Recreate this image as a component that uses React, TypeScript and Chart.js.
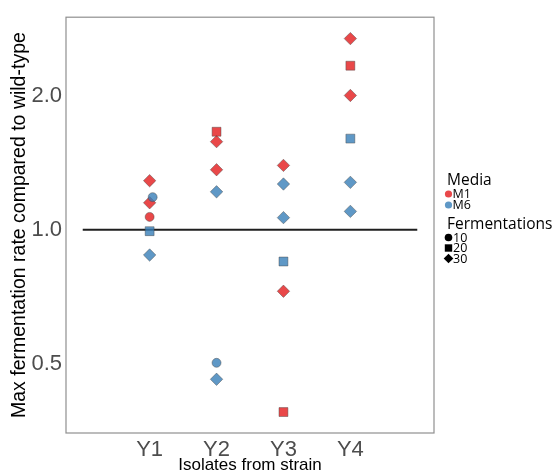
import React, { useEffect, useRef } from "react";
import { Chart, registerables } from "chart.js";

Chart.register(...registerables);

const categories = ["Y1", "Y2", "Y3", "Y4"];
const yTicks = [0.5, 1.0, 2.0];
const mediaLevels = ["M1", "M6"];
const fermentationLevels = ["10", "20", "30"];

// one entry per point
const isolate = [
  "Y1", "Y1", "Y1", "Y1", "Y1", "Y1",
  "Y2", "Y2", "Y2", "Y2", "Y2", "Y2",
  "Y3", "Y3", "Y3", "Y3", "Y3", "Y3",
  "Y4", "Y4", "Y4", "Y4", "Y4", "Y4",
];
const media = [
  "M1", "M6", "M1", "M1", "M6", "M6",
  "M1", "M1", "M1", "M6", "M6", "M6",
  "M1", "M6", "M6", "M6", "M1", "M1",
  "M1", "M1", "M1", "M6", "M6", "M6",
];
const fermentations = [
  "30", "10", "30", "10", "20", "30",
  "20", "30", "30", "30", "10", "30",
  "30", "30", "30", "20", "30", "20",
  "30", "20", "30", "20", "30", "30",
];
const rate = [
  1.289, 1.184, 1.15, 1.069, 0.993, 0.878,
  1.66, 1.577, 1.364, 1.217, 0.503, 0.462,
  1.395, 1.267, 1.065, 0.849, 0.728, 0.39,
  2.686, 2.335, 2.002, 1.602, 1.278, 1.1,
];
const jitter = [
  0, 0.045, 0, 0, 0, 0,
  0, 0, 0, 0, 0, 0,
  0, 0, 0, 0, 0, 0,
  0, 0, 0, 0, 0, 0,
];
const referenceLine = 1.0;

const mediaColors: Record<string, string> = {
  M1: "rgba(228,26,28,0.8)",
  M6: "rgba(55,126,184,0.8)",
};
const legendColors: Record<string, string> = {
  M1: "#E9484A",
  M6: "#5F98C6",
};
const shapes: Record<string, string> = { "10": "circle", "20": "rect", "30": "rectRot" };
const radii: Record<string, number> = { "10": 4.5, "20": 6.3, "30": 6.2 };

const sans = "'Liberation Sans', Arial, sans-serif";
const legendFont = "'Open Sans', 'Noto Sans', sans-serif";

const boxPlugin = {
  id: "boxAndLegend",
  afterDraw(chart: any) {
    const { ctx, chartArea } = chart;
    ctx.save();
    ctx.strokeStyle = "#8f8f8f";
    ctx.lineWidth = 1.2;
    ctx.strokeRect(chartArea.left, chartArea.top, chartArea.right - chartArea.left, chartArea.bottom - chartArea.top);

    // legend
    const lx = 447;
    ctx.fillStyle = "#000";
    ctx.textAlign = "left";
    ctx.textBaseline = "alphabetic";
    ctx.font = `15.5px ${legendFont}`;
    ctx.fillText("Media", lx, 184.5);
    ctx.font = `12.5px ${legendFont}`;
    ctx.textBaseline = "middle";
    const mediaRows = [194, 205];
    mediaLevels.forEach((m, i) => {
      ctx.fillStyle = legendColors[m];
      ctx.beginPath();
      ctx.arc(448.5, mediaRows[i], 3.6, 0, Math.PI * 2);
      ctx.fill();
      ctx.fillStyle = "#000";
      ctx.fillText(m, 452.5, mediaRows[i] + 0.5);
    });
    ctx.textBaseline = "alphabetic";
    ctx.font = `15.5px ${legendFont}`;
    ctx.fillText("Fermentations", lx, 228.5);
    ctx.font = `12.5px ${legendFont}`;
    ctx.textBaseline = "middle";
    const fRows = [237.5, 248, 258.5];
    fermentationLevels.forEach((f, i) => {
      const y = fRows[i];
      ctx.fillStyle = "#000";
      ctx.beginPath();
      if (f === "10") {
        ctx.arc(448.5, y, 3.8, 0, Math.PI * 2);
      } else if (f === "20") {
        ctx.rect(444.8, y - 3.7, 7.4, 7.4);
      } else {
        ctx.moveTo(448.5, y - 4.8);
        ctx.lineTo(453.3, y);
        ctx.lineTo(448.5, y + 4.8);
        ctx.lineTo(443.7, y);
        ctx.closePath();
      }
      ctx.fill();
      ctx.fillText(f, 453, y + 0.5);
    });
    ctx.restore();
  },
};

export default function App() {
  const ref = useRef<HTMLCanvasElement>(null);

  useEffect(() => {
    if (!ref.current) return;
    const datasets: any[] = [
      {
        type: "line",
        label: "ref",
        data: [
          { x: 0, y: referenceLine },
          { x: categories.length + 1, y: referenceLine },
        ],
        borderColor: "#1f1f1f",
        borderWidth: 2,
        pointRadius: 0,
        order: 10,
      },
    ];
    mediaLevels.forEach((m, mi) => {
      fermentationLevels.forEach((f) => {
        const pts: any[] = [];
        rate.forEach((r, i) => {
          if (media[i] === m && fermentations[i] === f) {
            pts.push({ x: categories.indexOf(isolate[i]) + 1 + jitter[i], y: r });
          }
        });
        datasets.push({
          type: "scatter",
          label: `${m}-${f}`,
          data: pts,
          pointStyle: shapes[f],
          pointRadius: radii[f],
          pointBackgroundColor: mediaColors[m],
          pointBorderColor: "rgba(70,70,70,0.55)",
          pointBorderWidth: 0.8,
          order: mi === 0 ? 5 : 1,
        });
      });
    });

    const chart = new Chart(ref.current, {
      type: "scatter",
      data: { datasets },
      options: {
        animation: false,
        responsive: false,
        devicePixelRatio: 1,
        layout: { padding: { left: 10, top: 13, right: 122, bottom: 0 } },
        plugins: { legend: { display: false }, tooltip: { enabled: false } },
        scales: {
          x: {
            type: "linear",
            min: -0.25,
            max: 5.25,
            grid: { display: false, drawTicks: false },
            border: { display: false },
            afterBuildTicks: (s: any) => {
              s.ticks = categories.map((_, i) => ({ value: i + 1 }));
            },
            afterFit: (s: any) => {
              s.height = 41;
            },
            ticks: {
              autoSkip: false,
              maxRotation: 0,
              padding: 4,
              color: "#4d4d4d",
              font: { family: sans, size: 22 },
              callback: (v: any) => categories[Number(v) - 1] ?? "",
            },
            title: {
              display: true,
              text: "Isolates from strain",
              color: "#000",
              font: { family: sans, size: 17, lineHeight: 1.0 },
              padding: { top: 0, bottom: 0 },
            },
          },
          y: {
            type: "logarithmic",
            min: 0.35,
            max: 3.0,
            grid: { display: false, drawTicks: false },
            border: { display: false },
            afterBuildTicks: (s: any) => {
              s.ticks = yTicks.map((v) => ({ value: v }));
            },
            afterFit: (s: any) => {
              s.width = 56;
            },
            ticks: {
              autoSkip: false,
              padding: 4,
              color: "#4d4d4d",
              font: { family: sans, size: 22 },
              callback: (v: any) => Number(v).toFixed(1),
            },
            title: {
              display: true,
              text: "Max fermentation rate compared to wild-type",
              color: "#000",
              font: { family: sans, size: 19.5, lineHeight: 1.0 },
              padding: { top: 0, bottom: 0 },
            },
          },
        },
      },
      plugins: [boxPlugin],
    } as any);
    return () => chart.destroy();
  }, []);

  return (
    <div style={{ position: "fixed", left: 0, top: 0, width: 556, height: 474, background: "#fff" }}>
      <canvas ref={ref} width={556} height={474} style={{ display: "block", width: 556, height: 474 }} />
    </div>
  );
}
